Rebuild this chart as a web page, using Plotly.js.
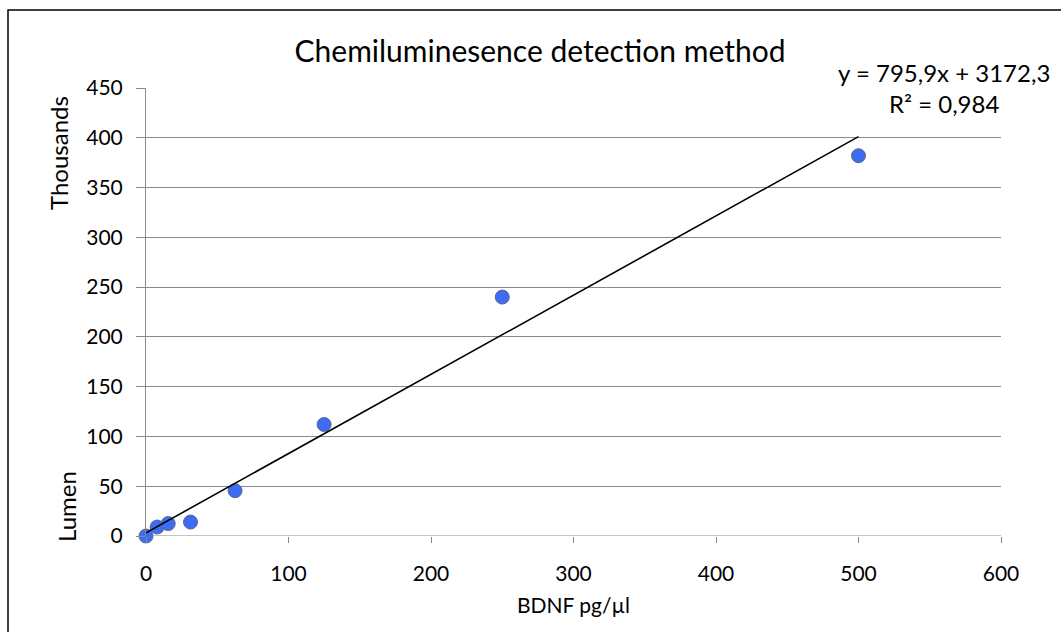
<!DOCTYPE html>
<html>
<head>
<meta charset="utf-8">
<script src="https://cdn.plot.ly/plotly-3.0.1.min.js"></script>
<style>html,body{margin:0;padding:0;background:#fff;}#chart{width:1061px;height:632px;}</style>
</head>
<body>
<div id="chart"></div>
<script>
// Data (Lumen in thousands)
const bdnf = [0, 7.8, 15.6, 31.25, 62.5, 125, 250, 500];
const lumenThousands = [0, 9, 12.5, 14, 45.5, 112, 240, 382];
// Trendline equation as shown (raw units)
const slope = 795.9;
const intercept = 3172.3;
const r2Text = "0,984";
const trendRange = [0, 500];
const xTicks = [0, 100, 200, 300, 400, 500, 600];
const yTicks = [0, 50, 100, 150, 200, 250, 300, 350, 400, 450];

const trendY = trendRange.map(x => (slope * x + intercept) / 1000);

const FONT = "Lato, 'Liberation Sans', sans-serif";

const data = [
  {
    x: bdnf, y: lumenThousands, type: 'scatter', mode: 'markers', cliponaxis: false,
    marker: {color: '#3D6CF2', size: 14, line: {color: '#5B6790', width: 1}},
    showlegend: false
  },
  {
    x: trendRange, y: trendY, type: 'scatter', mode: 'lines',
    line: {color: '#000000', width: 1.6}, hoverinfo: 'skip', showlegend: false
  }
];

const layout = {
  width: 1061, height: 632,
  margin: {l: 146, r: 60, t: 88, b: 96},
  paper_bgcolor: '#ffffff', plot_bgcolor: '#ffffff',
  font: {family: FONT, color: '#000000', size: 21},
  showlegend: false,
  title: {text: 'Chemiluminesence detection method', font: {family: FONT, size: 30, color: '#000'},
          x: 540/1061, xanchor: 'center', xref: 'container', y: 1 - 51/632, yanchor: 'middle'},
  xaxis: {
    range: [0, 600], tickvals: xTicks, ticktext: xTicks.map(String),
    showgrid: false, zeroline: false, showline: false,
    ticks: 'outside', ticklen: 6, tickcolor: '#888888', tickwidth: 1,
    tickfont: {family: FONT, size: 21}, ticklabelstandoff: 13,
    title: {text: 'BDNF pg/µl', font: {family: FONT, size: 21}, standoff: 14},
    fixedrange: true
  },
  yaxis: {
    range: [0, 450], tickvals: yTicks, ticktext: yTicks.map(String),
    showgrid: true, gridcolor: '#8a8a8a', gridwidth: 1,
    zeroline: false, showline: true, linecolor: '#8a8a8a', linewidth: 1,
    ticks: 'outside', ticklen: 9, tickcolor: '#8a8a8a', tickwidth: 1,
    tickfont: {family: FONT, size: 21}, ticklabelstandoff: 9,
    fixedrange: true
  },
  shapes: [
    {type: 'line', xref: 'paper', yref: 'y', x0: 0, x1: 1, y0: 0, y1: 0, line: {color: '#8a8a8a', width: 1}, layer: 'below'},
    {type: 'rect', xref: 'paper', yref: 'paper', x0: (8-146)/855, x1: 1.2, y0: -0.5, y1: (536-10)/448,
     line: {color: '#000000', width: 1.5}, fillcolor: 'rgba(0,0,0,0)'}
  ],
  annotations: [
    {text: 'Thousands', xref: 'paper', yref: 'paper', x: (58-146)/855, y: (536-153)/448,
     textangle: -90, showarrow: false, font: {family: FONT, size: 24}, xanchor: 'center', yanchor: 'middle'},
    {text: 'Lumen', xref: 'paper', yref: 'paper', x: (66-146)/855, y: (536-507)/448,
     textangle: -90, showarrow: false, font: {family: FONT, size: 24}, xanchor: 'center', yanchor: 'middle'},
    {text: 'y = ' + slope.toString().replace('.', ',') + 'x + ' + intercept.toString().replace('.', ',') + '<br>R² = ' + r2Text,
     xref: 'paper', yref: 'paper', x: (944-146)/855, y: (536-88)/448, align: 'center',
     showarrow: false, font: {family: FONT, size: 24}, xanchor: 'center', yanchor: 'middle'}
  ]
};

Plotly.newPlot('chart', data, layout, {displayModeBar: false, staticPlot: true});
</script>
</body>
</html>
